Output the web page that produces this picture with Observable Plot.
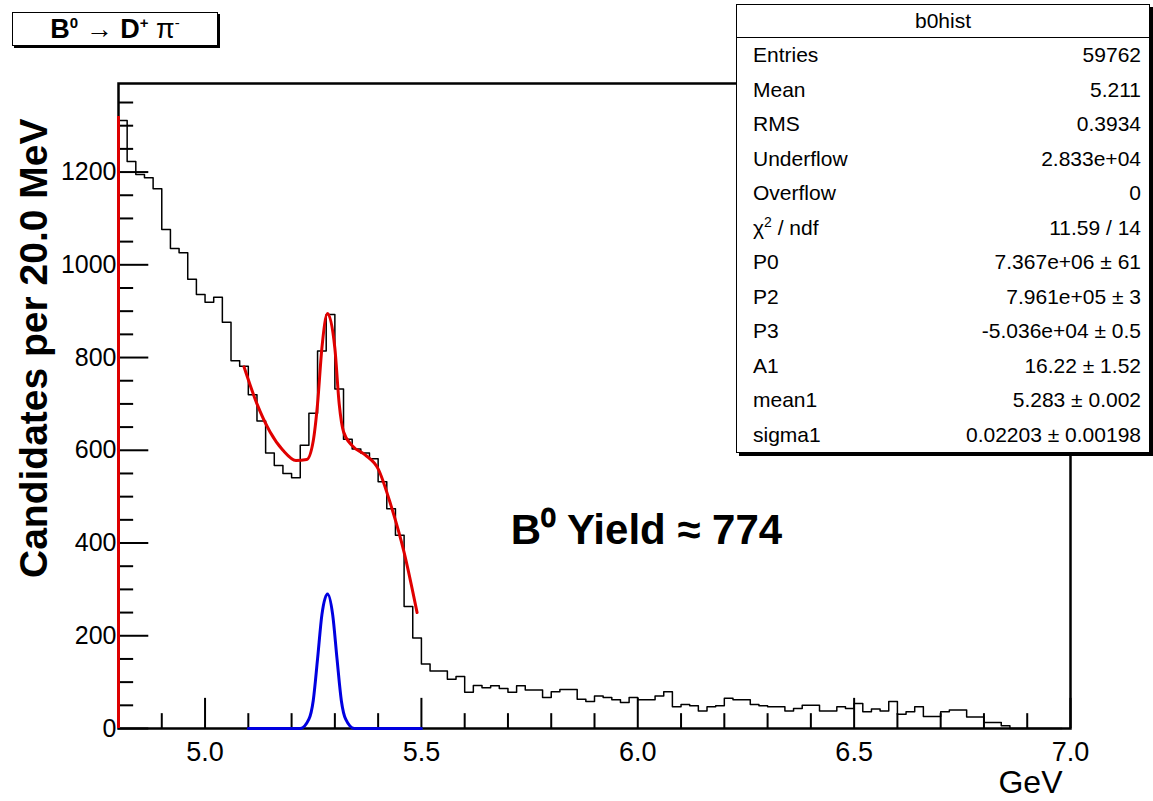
<!DOCTYPE html>
<html><head><meta charset="utf-8">
<script src="https://cdn.jsdelivr.net/npm/d3@7"></script>
<script src="https://cdn.jsdelivr.net/npm/@observablehq/plot@0.6"></script>
<style>
body{margin:0;background:#fff;font-family:"Liberation Sans",Arial,sans-serif;}
#wrap{position:relative;width:1153px;height:801px;}
#title{position:absolute;left:12px;top:12px;width:204px;height:32px;border:1.5px solid #000;background:#fff;font-size:27px;font-weight:bold;line-height:32px;text-align:center;box-shadow:2px 2px 0 #000;}
#title sup{font-size:15px;line-height:0}
#stats{position:absolute;left:736px;top:4px;width:412px;background:#fff;border:1.5px solid #000;box-shadow:3px 3px 0 #000;font-size:21px;}
#stats .h{text-align:center;border-bottom:1.5px solid #000;height:32px;line-height:32px}
#stats .r{display:flex;justify-content:space-between;padding:0 8px 0 16px;height:34.5px;line-height:34.5px}
#stats sup{line-height:0;font-size:14px}
svg{font-family:"Liberation Sans",Arial,sans-serif;}
</style></head><body>
<div id="wrap"><div id="chart"></div>
<div id="title">B<sup>0</sup> &rarr; D<sup>+</sup> <span style="font-weight:normal">&pi;<sup>-</sup></span></div>
<div id="stats"></div>
</div>
<script>
const binStart = 4.8, binWidth = 0.02;
const counts = [1311,1223,1195,1188,1164,1076,1035,1026,969,936,919,930,876,793,781,720,663,594,567,550,541,611,680,814,893,732,624,603,594,582,532,474,417,263,195,
139,124,124,106,112,78,93,88,92,86,78,92,83,83,67,79,84,84,63,58,70,67,62,56,67,62,62,70,79,47,52,49,38,47,49,65,62,62,52,49,47,47,38,43,50,50,38,38,47,43,54,36,42,38,58,31,36,47,26,26,36,40,40,25,25,13,13,6,
0,0,0,0,0,0];
const fitX = [5.09,5.12,5.15,5.18,5.21,5.235,5.25,5.26,5.27,5.283,5.30,5.31,5.32,5.34,5.37,5.40,5.43,5.46,5.49];
const fitY = [780,700,640,600,578,580,620,700,820,895,820,700,640,610,590,560,480,380,250];
const sigX = [5.10,5.22,5.24,5.25,5.26,5.27,5.283,5.295,5.305,5.315,5.325,5.345,5.50];
const sigY = [0,0,20,60,150,245,290,245,150,60,20,0,0];
const xTicks = [5.0,5.5,6.0,6.5,7.0];
const yTicks = [0,200,400,600,800,1000,1200];
const statNames = ["Entries","Mean","RMS","Underflow","Overflow","χ<sup>2</sup> / ndf","P0","P2","P3","A1","mean1","sigma1"];
const statVals = ["59762","5.211","0.3934","2.833e+04","0","11.59 / 14","7.367e+06 ± 61","7.961e+05 ± 3","-5.036e+04 ± 0.5","16.22 ± 1.52","5.283 ± 0.002","0.02203 ± 0.00198"];

document.getElementById("stats").innerHTML = '<div class="h">b0hist</div>' +
  statNames.map((n,i)=>`<div class="r"><span>${n}</span><span>${statVals[i]}</span></div>`).join("");

const hist = counts.map((c,i)=>({x:binStart+i*binWidth,y:c}));
hist.push({x:binStart+counts.length*binWidth,y:0});
const fit = fitX.map((x,i)=>({x,y:fitY[i]}));
const sig = sigX.map((x,i)=>({x,y:sigY[i]}));
const minorX = d3.range(48,71).map(v=>v/10);
const minorY = d3.range(0,1400,50);

const plot = Plot.plot({
  width:1153,height:801,marginLeft:118,marginRight:83,marginTop:83,marginBottom:73,
  style:{fontFamily:"Liberation Sans, Arial, sans-serif"},
  x:{domain:[4.8,7.0],axis:null},
  y:{domain:[0,1391],axis:null},
  marks:[
    Plot.frame({stroke:"#000",strokeWidth:2.5}),
    Plot.ruleX(minorX,{y1:0,y2:d=>xTicks.includes(d)?65:32,stroke:"#000",strokeWidth:2}),
    Plot.ruleY(minorY,{x1:4.8,x2:d=>yTicks.includes(d)?4.87:4.835,stroke:"#000",strokeWidth:2}),
    Plot.line(hist,{x:"x",y:"y",curve:"step-after",stroke:"#000",strokeWidth:1.5}),
    Plot.ruleX([4.8],{y1:0,y2:1320,stroke:"#d00",strokeWidth:3}),
    Plot.line(fit,{x:"x",y:"y",curve:"monotone-x",stroke:"#e00000",strokeWidth:3}),
    Plot.line(sig,{x:"x",y:"y",curve:"monotone-x",stroke:"#0000e0",strokeWidth:3}),
    Plot.text(xTicks,{x:d=>d,y:0,text:d=>d.toFixed(1),dy:24,fontSize:27,fill:"#000"}),
    Plot.text(yTicks,{x:4.8,y:d=>d,text:d=>String(d),textAnchor:"end",dx:-2,fontSize:25,fill:"#000"}),
    Plot.text(["GeV"],{x:7.0,y:0,text:d=>d,textAnchor:"end",dy:54,dx:-8,fontSize:32,fill:"#000"}),
    Plot.text(["Candidates per 20.0 MeV"],{x:4.8,y:820,text:d=>d,rotate:-90,dx:-84,fontSize:39,fontWeight:"bold",fill:"#000"}),
    Plot.text(["B⁰ Yield ≈ 774"],{x:6.02,y:427,text:d=>d,fontSize:42,fontWeight:"bold",fill:"#000"})
  ]
});
document.getElementById("chart").appendChild(plot);
</script></body></html>
